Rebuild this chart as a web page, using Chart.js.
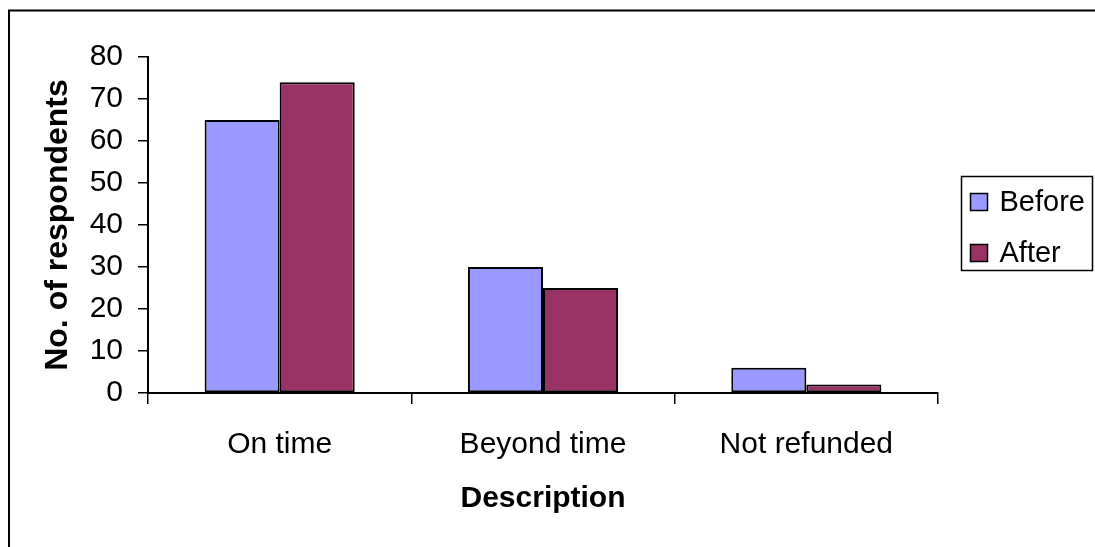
<!DOCTYPE html>
<html>
<head>
<meta charset="utf-8">
<script src="https://cdn.jsdelivr.net/npm/chart.js@4.4.1/dist/chart.umd.min.js"></script>
<style>
  html, body { margin: 0; padding: 0; background: #ffffff; }
  #wrap { width: 1095px; height: 547px; position: relative; }
</style>
</head>
<body>
<div id="wrap"><canvas id="chart" width="1095" height="547"></canvas></div>
<script>
// Refund timing survey: respondents per category, before and after
const categories = ['On time', 'Beyond time', 'Not refunded'];
const seriesNames = ['Before', 'After'];
const beforeValues = [65, 30, 6];
const afterValues = [74, 25, 2];
const yTicks = [0, 10, 20, 30, 40, 50, 60, 70, 80];

const FONT = '"Liberation Sans", Arial, sans-serif';
const BEFORE_COLOR = '#9999FF';
const AFTER_COLOR = '#993366';

// Outer frame plus a boxed legend on the right
const framePlugin = {
  id: 'frameAndLegend',
  afterDraw(chart) {
    const ctx = chart.ctx;
    const area = chart.chartArea;
    ctx.save();
    ctx.strokeStyle = '#000000';
    ctx.lineWidth = 2;
    ctx.strokeRect(9, 10.5, 1100, 560);

    const boxX = area.right + 23.5;
    const boxY = 176.5;
    const boxW = 131;
    const boxH = 94;
    ctx.lineWidth = 1.5;
    ctx.strokeRect(boxX, boxY, boxW, boxH);

    ctx.font = '29px ' + FONT;
    ctx.textBaseline = 'middle';
    ctx.textAlign = 'left';
    chart.data.datasets.forEach((ds, i) => {
      const cy = 202 + i * 51;
      ctx.fillStyle = ds.backgroundColor;
      ctx.fillRect(boxX + 9, cy - 8.5, 17, 17);
      ctx.lineWidth = 1.5;
      ctx.strokeStyle = '#000000';
      ctx.strokeRect(boxX + 9, cy - 8.5, 17, 17);
      ctx.fillStyle = '#000000';
      ctx.fillText(ds.label, boxX + 38, cy + 1);
    });
    ctx.restore();
  }
};

new Chart(document.getElementById('chart'), {
  type: 'bar',
  data: {
    labels: categories,
    datasets: [
      {
        label: seriesNames[0],
        data: beforeValues,
        backgroundColor: BEFORE_COLOR,
        borderColor: '#000000',
        borderWidth: 2,
        borderSkipped: false,
        categoryPercentage: 0.57,
        barPercentage: 1.0
      },
      {
        label: seriesNames[1],
        data: afterValues,
        backgroundColor: AFTER_COLOR,
        borderColor: '#000000',
        borderWidth: 2,
        borderSkipped: false,
        categoryPercentage: 0.57,
        barPercentage: 1.0
      }
    ]
  },
  options: {
    responsive: false,
    animation: false,
    devicePixelRatio: 1,
    layout: { padding: { left: 0, top: 57, right: 157, bottom: 0 } },
    plugins: {
      legend: { display: false },
      tooltip: { enabled: false }
    },
    scales: {
      x: {
        grid: {
          display: true,
          drawOnChartArea: false,
          drawTicks: true,
          tickLength: 11,
          color: '#000000',
          lineWidth: 1.5,
          offset: true
        },
        border: { display: true, color: '#000000', width: 2 },
        ticks: {
          color: '#000000',
          font: { family: FONT, size: 30 },
          padding: 23,
          maxRotation: 0
        },
        title: {
          display: true,
          text: 'Description',
          color: '#000000',
          font: { family: FONT, size: 30, weight: 'bold' },
          padding: { top: 0, bottom: 30 }
        },
        afterFit(scale) { scale.height = 547 - 393; }
      },
      y: {
        min: 0,
        max: 80,
        grid: {
          display: true,
          drawOnChartArea: false,
          drawTicks: true,
          tickLength: 10,
          color: '#000000',
          lineWidth: 1.5
        },
        border: { display: true, color: '#000000', width: 2 },
        ticks: {
          color: '#000000',
          font: { family: FONT, size: 30 },
          padding: 15,
          stepSize: 10,
          callback: (v) => (yTicks.includes(v) ? String(v) : '')
        },
        title: {
          display: true,
          text: 'No. of respondents',
          color: '#000000',
          font: { family: FONT, size: 32, weight: 'bold' },
          padding: { top: 39, bottom: 0 }
        },
        afterFit(scale) { scale.width = 148; }
      }
    }
  },
  plugins: [framePlugin]
});
</script>
</body>
</html>
